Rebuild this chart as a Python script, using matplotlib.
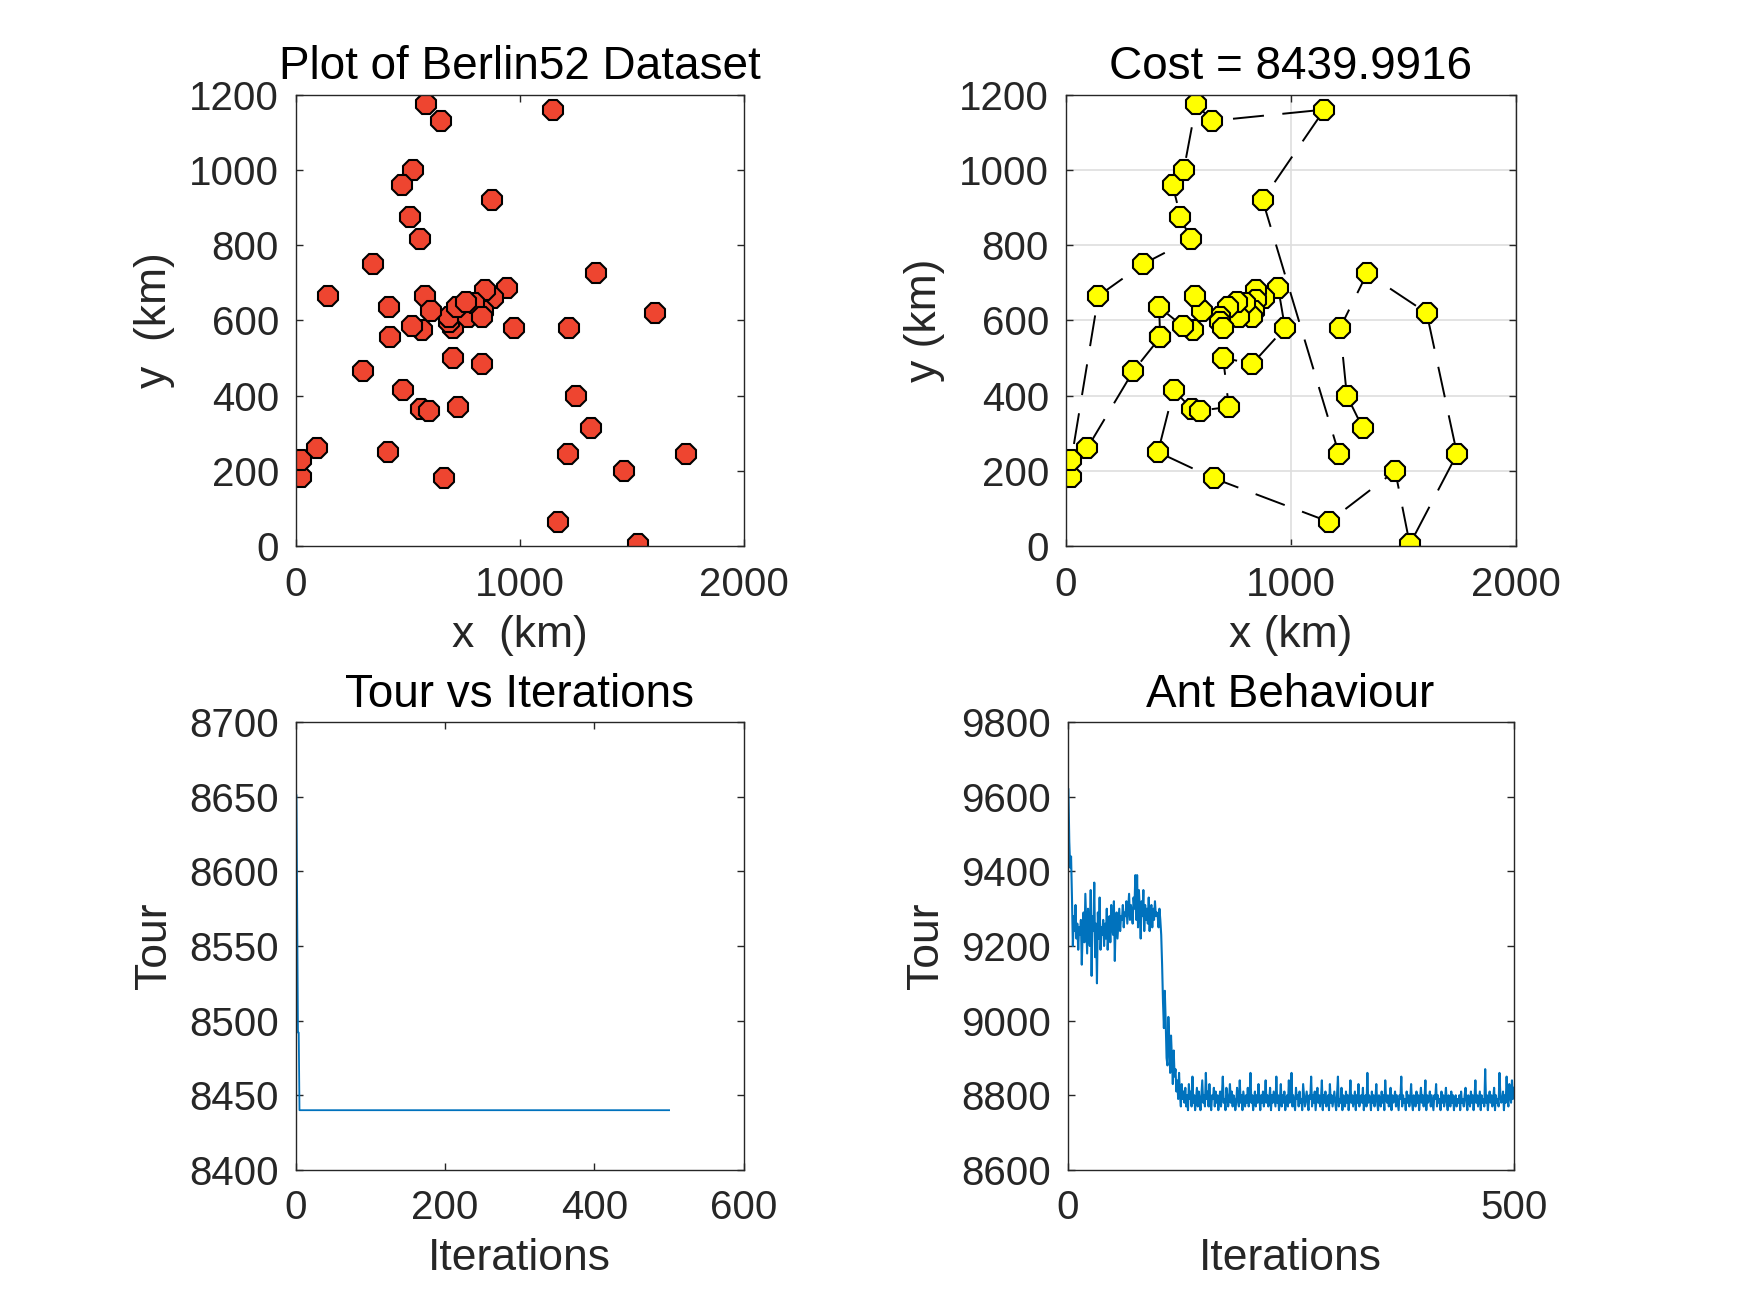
import matplotlib
matplotlib.use('Agg')
import matplotlib.pyplot as plt
import numpy as np

plt.rcParams['font.family'] = ['Liberation Sans', 'DejaVu Sans']

# Berlin52 city coordinates (km)
city_x = [565, 25, 345, 945, 845, 880, 25, 525, 580, 650, 1605, 1220, 1465, 1530, 845, 725, 145,
          415, 510, 560, 300, 520, 480, 835, 975, 1215, 1320, 1250, 660, 410, 420, 575, 1150, 700,
          685, 685, 770, 795, 720, 760, 475, 95, 875, 700, 555, 830, 1170, 830, 605, 595, 1340, 1740]
city_y = [575, 185, 750, 685, 655, 660, 230, 1000, 1175, 1130, 620, 580, 200, 5, 680, 370, 665,
          635, 875, 365, 465, 585, 415, 625, 580, 245, 315, 400, 180, 250, 555, 665, 1160, 580,
          595, 610, 610, 645, 635, 650, 960, 260, 920, 500, 815, 485, 65, 610, 625, 360, 725, 245]

# best tour found (1-based city numbers)
tour = [31, 21, 42, 2, 7, 17, 3, 45, 19, 41, 8, 9, 10, 33, 43, 26, 27, 28, 12, 51,
        11, 52, 14, 13, 47, 29, 30, 23, 20, 50, 16, 44, 46, 25, 4, 6, 15, 5, 24, 48,
        38, 37, 40, 39, 36, 35, 34, 49, 32, 1, 22, 18]
cost = 8439.9916

# best tour length per iteration
best_tour = [8651, 8570, 8492, 8492] + [8439.9916] * 496

# ant tour length per iteration
ant_tour = [
    9620, 9480, 9410, 9440, 9330, 9200, 9280, 9240, 9310, 9220,
    9260, 9190, 9250, 9230, 9270, 9150, 9240, 9290, 9210, 9340,
    9260, 9180, 9300, 9230, 9200, 9350, 9120, 9280, 9240, 9370,
    9170, 9260, 9100, 9290, 9220, 9330, 9190, 9250, 9230, 9270,
    9200, 9260, 9220, 9300, 9190, 9240, 9280, 9210, 9310, 9250,
    9230, 9320, 9160, 9270, 9290, 9220, 9260, 9300, 9240, 9280,
    9270, 9310, 9250, 9290, 9280, 9320, 9260, 9300, 9340, 9270,
    9310, 9290, 9260, 9330, 9300, 9390, 9270, 9390, 9250, 9350,
    9300, 9220, 9320, 9280, 9350, 9240, 9310, 9270, 9300, 9260,
    9330, 9240, 9290, 9310, 9250, 9300, 9270, 9320, 9280, 9290,
    9280, 9250, 9300, 9270, 9230, 9150, 9050, 8980, 9080, 9000,
    8900, 8880, 9010, 8950, 8860, 8960, 8900, 8830, 8920, 8850,
    8870, 8810, 8840, 8790, 8860, 8800, 8770, 8830, 8790, 8810,
    8780, 8820, 8770, 8800, 8760, 8830, 8790, 8810, 8770, 8850,
    8780, 8800, 8760, 8790, 8820, 8770, 8810, 8790, 8760, 8800,
    8840, 8780, 8800, 8770, 8860, 8790, 8810, 8770, 8830, 8780,
    8760, 8800, 8790, 8820, 8770, 8810, 8780, 8800, 8760, 8790,
    8810, 8770, 8800, 8850, 8780, 8790, 8760, 8820, 8800, 8770,
    8790, 8830, 8780, 8810, 8770, 8800, 8790, 8760, 8780, 8820,
    8790, 8770, 8840, 8780, 8800, 8760, 8810, 8790, 8770, 8800,
    8780, 8820, 8770, 8790, 8860, 8780, 8800, 8760, 8790, 8810,
    8770, 8800, 8780, 8830, 8790, 8760, 8800, 8780, 8810, 8770,
    8790, 8840, 8780, 8800, 8770, 8790, 8820, 8760, 8800, 8780,
    8810, 8790, 8770, 8850, 8780, 8800, 8760, 8790, 8830, 8770,
    8800, 8780, 8810, 8760, 8790, 8800, 8770, 8840, 8780, 8790,
    8860, 8770, 8800, 8780, 8760, 8820, 8790, 8800, 8770, 8810,
    8780, 8790, 8760, 8830, 8800, 8770, 8790, 8810, 8780, 8760,
    8800, 8790, 8850, 8770, 8800, 8780, 8810, 8760, 8790, 8820,
    8780, 8800, 8770, 8790, 8840, 8760, 8800, 8780, 8810, 8770,
    8790, 8800, 8760, 8830, 8780, 8800, 8770, 8790, 8810, 8780,
    8760, 8800, 8850, 8770, 8790, 8780, 8820, 8760, 8800, 8790,
    8770, 8810, 8780, 8800, 8760, 8790, 8840, 8780, 8800, 8770,
    8790, 8810, 8760, 8800, 8780, 8830, 8770, 8790, 8800, 8780,
    8820, 8760, 8790, 8800, 8770, 8860, 8780, 8800, 8790, 8760,
    8810, 8780, 8800, 8770, 8790, 8830, 8780, 8760, 8800, 8790,
    8770, 8810, 8780, 8800, 8760, 8840, 8790, 8780, 8800, 8770,
    8790, 8820, 8760, 8800, 8780, 8790, 8810, 8770, 8800, 8780,
    8760, 8800, 8790, 8850, 8770, 8800, 8780, 8790, 8760, 8810,
    8780, 8800, 8770, 8790, 8830, 8780, 8760, 8800, 8790, 8770,
    8810, 8780, 8800, 8760, 8790, 8820, 8780, 8800, 8770, 8790,
    8840, 8760, 8800, 8780, 8790, 8810, 8770, 8800, 8780, 8760,
    8800, 8790, 8830, 8770, 8800, 8780, 8790, 8760, 8810, 8780,
    8800, 8770, 8790, 8820, 8780, 8760, 8800, 8790, 8770, 8810,
    8780, 8800, 8760, 8790, 8800, 8770, 8790, 8780, 8800, 8760,
    8810, 8780, 8790, 8770, 8800, 8820, 8780, 8760, 8800, 8790,
    8770, 8810, 8780, 8800, 8760, 8790, 8840, 8780, 8800, 8770,
    8790, 8810, 8760, 8800, 8780, 8790, 8770, 8870, 8780, 8800,
    8760, 8790, 8810, 8780, 8800, 8770, 8790, 8820, 8760, 8800,
    8780, 8790, 8770, 8860, 8800, 8780, 8790, 8810, 8760, 8800,
    8780, 8850, 8790, 8770, 8830, 8800, 8780, 8840, 8790, 8820,
]

blue = (0, 0.447, 0.741)
axcol = '#262626'
tick_fs = 29
lab_fs = 32
title_fs = 33


def style(ax):
    ax.tick_params(direction='in', top=True, right=True, length=5, width=1,
                   labelsize=tick_fs, colors=axcol)
    ax.tick_params(axis='x', pad=14)
    ax.tick_params(axis='y', pad=12)
    for s in ax.spines.values():
        s.set_color(axcol)
        s.set_linewidth(1.0)


fig = plt.figure(figsize=(17.5, 13.13), dpi=100)
ax1 = fig.add_axes([0.169, 0.584, 0.256, 0.344])
ax2 = fig.add_axes([0.609, 0.584, 0.257, 0.344])
ax3 = fig.add_axes([0.169, 0.109, 0.256, 0.341])
ax4 = fig.add_axes([0.610, 0.109, 0.255, 0.341])

# Berlin52 scatter
ax1.plot(city_x, city_y, linestyle='none', marker='8', markersize=15,
         markerfacecolor='#ee4530', markeredgecolor='black', markeredgewidth=1.5)
ax1.set_xlim(0, 2000)
ax1.set_ylim(0, 1200)
ax1.set_xticks([0, 1000, 2000])
ax1.set_yticks(range(0, 1201, 200))
ax1.set_xlabel('x  (km)', fontsize=lab_fs, color=axcol, labelpad=8)
ax1.set_ylabel('y  (km)', fontsize=lab_fs, color=axcol, labelpad=10)
ax1.set_title('Plot of Berlin52 Dataset', fontsize=title_fs, pad=11)
style(ax1)

# best tour
tx = [city_x[i - 1] for i in tour + tour[:1]]
ty = [city_y[i - 1] for i in tour + tour[:1]]
ax2.plot(tx, ty, color='black', linewidth=1.4, linestyle=(0, (16, 9.5)),
         marker='8', markersize=15, markerfacecolor='yellow',
         markeredgecolor='black', markeredgewidth=1.5)
ax2.set_xlim(0, 2000)
ax2.set_ylim(0, 1200)
ax2.set_xticks([0, 1000, 2000])
ax2.set_yticks(range(0, 1201, 200))
ax2.grid(True, color='#dedede', linewidth=1.2)
ax2.set_axisbelow(True)
ax2.set_xlabel('x (km)', fontsize=lab_fs, color=axcol, labelpad=8)
ax2.set_ylabel('y (km)', fontsize=lab_fs, color=axcol, labelpad=10)
ax2.set_title('Cost = %.4f' % cost, fontsize=title_fs, pad=11)
style(ax2)

# best tour vs iterations
it = np.arange(1, len(best_tour) + 1)
ax3.plot(it, best_tour, color=blue, linewidth=1.3)
ax3.set_xlim(0, 600)
ax3.set_ylim(8400, 8700)
ax3.set_xticks(range(0, 601, 200))
ax3.set_yticks(range(8400, 8701, 50))
ax3.set_xlabel('Iterations', fontsize=lab_fs, color=axcol, labelpad=8)
ax3.set_ylabel('Tour', fontsize=lab_fs, color=axcol, labelpad=10)
ax3.set_title('Tour vs Iterations', fontsize=title_fs, pad=11)
style(ax3)

# ant behaviour
it2 = np.arange(1, len(ant_tour) + 1)
ax4.plot(it2, ant_tour, color=blue, linewidth=1.5)
ax4.set_xlim(0, 500)
ax4.set_ylim(8600, 9800)
ax4.set_xticks([0, 500])
ax4.set_yticks(range(8600, 9801, 200))
ax4.set_xlabel('Iterations', fontsize=lab_fs, color=axcol, labelpad=8)
ax4.set_ylabel('Tour', fontsize=lab_fs, color=axcol, labelpad=10)
ax4.set_title('Ant Behaviour', fontsize=title_fs, pad=11)
style(ax4)

fig.savefig('out.png', dpi=100)
